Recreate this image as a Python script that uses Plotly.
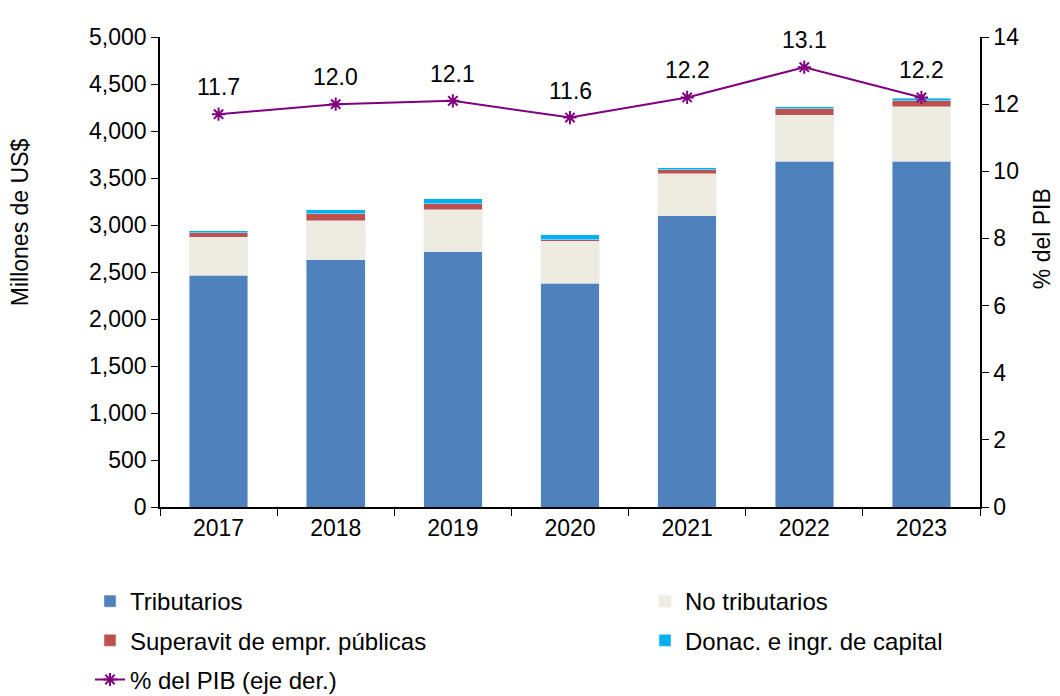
import plotly.graph_objects as go

years = ["2017", "2018", "2019", "2020", "2021", "2022", "2023"]
tributarios = [2468, 2628, 2716, 2383, 3096, 3678, 3678]
no_tributarios = [404, 418, 444, 444, 447, 489, 581]
superavit = [46, 75, 67, 17, 46, 68, 64]
donaciones = [22, 42, 50, 50, 18, 24, 23]
pct_pib = [11.7, 12.0, 12.1, 11.6, 12.2, 13.1, 12.2]
pct_labels = ["11.7", "12.0", "12.1", "11.6", "12.2", "13.1", "12.2"]

FONT = "Liberation Sans, Arial, sans-serif"
W, H = 1052, 688
fig = go.Figure()
bar_series = [
    ("Tributarios", tributarios, "#4F81BD", "legend"),
    ("No tributarios", no_tributarios, "#EEECE1", "legend2"),
    ("Superavit de empr. públicas", superavit, "#C0504D", "legend"),
    ("Donac. e ingr. de capital", donaciones, "#00B0F0", "legend2"),
]
for name, vals, col, lg in bar_series:
    fig.add_trace(go.Bar(x=years, y=vals, name=name, marker_color=col, legend=lg, legendgroup=name))

fig.add_trace(go.Scatter(x=years, y=pct_pib, name="% del PIB (eje der.)", yaxis="y2", mode="lines+markers",
                         line=dict(color="#800080", width=2), legend="legend", legendgroup="pib",
                         marker=dict(symbol="asterisk", size=11, line=dict(color="#800080", width=2),
                                     color="#800080")))

# value labels; category axes take serial numbers for annotation positions
for idx, (v, lab) in enumerate(zip(pct_pib, pct_labels)):
    fig.add_annotation(x=idx, y=v, xref="x", yref="y2", text=lab, showarrow=False, yshift=27,
                       font=dict(size=23, color="black", family=FONT))

# axis titles
fig.add_annotation(x=-0.1707, y=0.606, xref="paper", yref="paper", text="Millones de US$", textangle=-90,
                   xanchor="center", yanchor="middle", showarrow=False,
                   font=dict(size=23, color="black", family=FONT))
fig.add_annotation(x=1.0756, y=0.572, xref="paper", yref="paper", text="% del PIB", textangle=-90,
                   xanchor="center", yanchor="middle", showarrow=False,
                   font=dict(size=23, color="black", family=FONT))

leg_common = dict(orientation="v", traceorder="grouped", xref="container", yref="container",
                  xanchor="left", yanchor="top", font=dict(size=24), tracegroupgap=5,
                  bgcolor="rgba(0,0,0,0)")

fig.update_layout(
    width=W, height=H,
    margin=dict(l=152, r=80, t=29, b=189, autoexpand=False),
    barmode="stack", bargap=0.5,
    plot_bgcolor="white", paper_bgcolor="white",
    font=dict(family=FONT, size=23, color="black"),
    showlegend=True,
    legend=dict(x=82 / W, y=1 - 571 / H, **leg_common),
    legend2=dict(x=637 / W, y=1 - 571 / H, **leg_common),
    xaxis=dict(type="category", showline=True, linecolor="black", linewidth=1.5, ticks="outside",
               tickson="boundaries", ticklen=7, tickcolor="black", showgrid=False, tickangle=0,
               automargin=False),
    yaxis=dict(range=[0, 5000], dtick=500, tickformat=",", showline=True, linecolor="black", linewidth=1.5,
               ticks="outside", ticklen=7, tickcolor="black", showgrid=False, zeroline=False,
               automargin=False),
    yaxis2=dict(range=[0, 14], dtick=2, overlaying="y", side="right", showline=True, linecolor="black",
                linewidth=1.5, ticks="outside", ticklen=7, tickcolor="black", showgrid=False, zeroline=False,
                automargin=False),
)

fig.write_html("out.html")
